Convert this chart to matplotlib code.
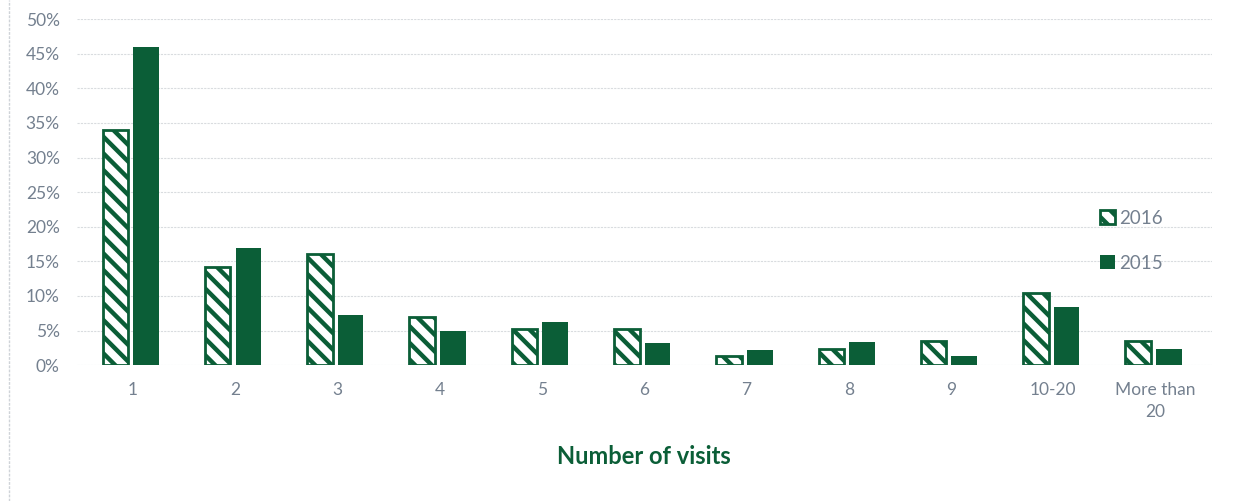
import matplotlib
matplotlib.use("Agg")
import matplotlib.pyplot as plt
import numpy as np
from matplotlib.lines import Line2D

# data
categories = ["1", "2", "3", "4", "5", "6", "7", "8", "9", "10-20", "More than\n20"]
share_2016 = [34, 14.2, 16, 7, 5.2, 5.3, 1.3, 2.4, 3.5, 10.4, 3.5]
share_2015 = [46, 17, 7.2, 5, 6.2, 3.2, 2.2, 3.3, 1.3, 8.4, 2.4]
y_ticks = [0, 5, 10, 15, 20, 25, 30, 35, 40, 45, 50]

green = "#0b5e37"
grey_text = "#74808f"

plt.rcParams['font.family'] = ['Lato', 'DejaVu Sans']
plt.rcParams['hatch.linewidth'] = 3.2
plt.rcParams['hatch.color'] = green

fig = plt.figure(figsize=(12.34, 5.01), dpi=100)
ax = fig.add_axes([0.062, 0.271, 0.92, 0.691])

x = np.arange(len(categories))
w = 0.25
ax.bar(x - 0.17, share_2016, width=w, facecolor="white", edgecolor=green,
       hatch="\\\\", linewidth=2, label="2016", zorder=3)
ax.bar(x + 0.13, share_2015, width=w, color=green, label="2015", zorder=3)

ax.set_ylim(0, 50)
ax.set_xlim(-0.55, len(categories) - 0.45)
ax.set_yticks(y_ticks)
ax.set_yticklabels([f"{t}%" for t in y_ticks])
ax.set_xticks(x)
ax.set_xticklabels(categories, linespacing=1.5)
ax.tick_params(axis="both", length=0, labelsize=12.5, colors=grey_text)
ax.tick_params(axis="x", pad=12)
ax.tick_params(axis="y", pad=12)

ax.grid(axis="y", color="#d9dcdf", linestyle=(0, (2, 1)), linewidth=0.8, zorder=0)
for s in ax.spines.values():
    s.set_visible(False)

ax.set_xlabel("Number of visits", fontsize=17, fontweight="bold", color=green, labelpad=18)

leg = ax.legend(loc="center left", bbox_to_anchor=(0.887, 0.36), frameon=False,
                fontsize=13.5, handlelength=0.8, handleheight=0.8, handletextpad=0.2,
                labelspacing=1.5, labelcolor=grey_text)

# faint frame line at the left edge
fig.add_artist(Line2D([0.007, 0.007], [0.0, 1.0], transform=fig.transFigure,
                      color="#cfd3d8", linewidth=1, linestyle=(0, (2, 1))))

fig.savefig("out.png", dpi=100)
